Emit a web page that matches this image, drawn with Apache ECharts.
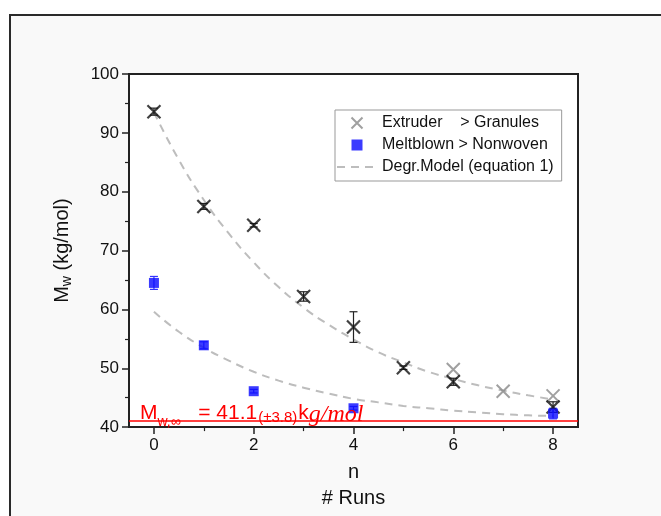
<!DOCTYPE html>
<html>
<head>
<meta charset="utf-8">
<script src="https://cdn.jsdelivr.net/npm/echarts@6/dist/echarts.min.js"></script>
<style>
html,body{margin:0;padding:0;background:#fff;}
#chart{width:661px;height:516px;}
</style>
</head>
<body>
<div id="chart"></div>
<script>
// ---- data ----
const blackRuns   = [0, 1, 2, 3, 4, 5, 6, 8];
const blackMw     = [93.6, 77.5, 74.3, 62.2, 57.0, 50.1, 47.7, 43.4];
const blackErrLo  = [0.6, 0.5, 0.3, 0.8, 2.6, 0.3, 0.6, 0.9];
const blackErrHi  = [0.6, 0.5, 0.3, 0.8, 2.6, 0.3, 0.6, 0.9];

const greyRuns    = [6, 7, 8];
const greyMw      = [49.8, 46.1, 45.3];

const blueRuns    = [0, 1, 2, 4, 8];
const blueMw      = [64.5, 53.9, 46.1, 43.2, 42.3];
const blueErr     = [1.1, 0.6, 0.3, 0.3, 0.9];

const curveN      = [0, 0.5, 1, 1.5, 2, 2.5, 3, 3.5, 4, 4.5, 5, 5.5, 6, 6.5, 7, 7.5, 8];
const upperCurve  = [93.5, 85.4, 78.6, 72.9, 68.0, 63.8, 60.3, 57.4, 54.9, 52.7, 51.0, 49.4, 48.2, 47.1, 46.2, 45.4, 44.7];
const lowerCurve  = [59.6, 56.2, 53.5, 51.3, 49.4, 47.9, 46.7, 45.7, 44.8, 44.2, 43.6, 43.2, 42.8, 42.5, 42.2, 42.0, 41.9];

const mwInf       = 41.1;
const xTickLabels = [0, 2, 4, 6, 8];
const xMinorTicks = [1, 3, 5, 7];

const nameExtruder = 'Extruder    > Granules';
const nameMelt     = 'Meltblown > Nonwoven';
const nameModel    = 'Degr.Model (equation 1)';
// --------------------------------------

const zip = (a, b) => a.map((v, i) => [v, b[i]]);
const X_PATH = 'path://M0,0L10,10M10,0L0,10';
const SQ_PATH = 'path://M0,0L10,0L10,10L0,10Z';

function errBarSeries(runs, vals, lo, hi, color) {
  return {
    type: 'custom',
    silent: true,
    z: 3,
    data: runs.map((n, i) => [n, vals[i] - lo[i], vals[i] + hi[i]]),
    renderItem(params, api) {
      const x = api.value(0);
      const a = api.coord([x, api.value(1)]);
      const b = api.coord([x, api.value(2)]);
      const w = 4;
      const st = { stroke: color, lineWidth: 1.2 };
      return {
        type: 'group',
        children: [
          { type: 'line', shape: { x1: a[0], y1: a[1], x2: b[0], y2: b[1] }, style: st },
          { type: 'line', shape: { x1: a[0] - w, y1: a[1], x2: a[0] + w, y2: a[1] }, style: st },
          { type: 'line', shape: { x1: b[0] - w, y1: b[1], x2: b[0] + w, y2: b[1] }, style: st }
        ]
      };
    }
  };
}

const chart = echarts.init(document.getElementById('chart'), null, { renderer: 'canvas' });

const axisFont = { fontFamily: 'Liberation Sans, Arial, sans-serif', color: '#111' };
const red = '#ff0000';

chart.setOption({
  animation: false,
  backgroundColor: '#fff',
  graphic: [
    {
      type: 'rect', left: 9, top: 14, z: -10, silent: true,
      shape: { x: 0, y: 0, width: 720, height: 600 },
      style: { fill: '#f9f9f9', stroke: '#2a2a2a', lineWidth: 2 }
    },
    {
      type: 'text', left: 140, top: 403, z: 100, silent: true,
      style: {
        text: '{m|M}{s|w,∞}{m|   = 41.1}{p|(±3.8)}{m|k}{i|g/mol}',
        fill: red,
        rich: {
          m: { fontSize: 21, fontFamily: 'Liberation Sans, Arial, sans-serif', fill: red, verticalAlign: 'top', lineHeight: 26 },
          s: { fontSize: 14, fontFamily: 'Liberation Sans, Arial, sans-serif', fill: red, verticalAlign: 'top', lineHeight: 14, padding: [12, 0, 0, 0] },
          p: { fontSize: 15, fontFamily: 'Liberation Sans, Arial, sans-serif', fill: red, verticalAlign: 'top', lineHeight: 15, padding: [7, 1, 0, 1] },
          i: { fontSize: 24, fontFamily: 'Liberation Serif, serif', fontStyle: 'italic', fill: red, verticalAlign: 'top', lineHeight: 26 }
        }
      }
    }
  ],
  grid: {
    left: 129, right: 83, top: 74, bottom: 81,
    show: true, backgroundColor: '#ffffff', borderColor: '#222', borderWidth: 2
  },
  legend: {
    orient: 'vertical',
    left: 335, top: 110,
    backgroundColor: '#fff',
    borderColor: '#999', borderWidth: 1, borderRadius: 0,
    padding: [5, 8, 6, 1],
    itemGap: 6,
    itemWidth: 40, itemHeight: 11,
    textStyle: { fontSize: 16, fontFamily: 'Liberation Sans, Arial, sans-serif', color: '#111' },
    data: [
      { name: nameExtruder },
      { name: nameMelt, icon: SQ_PATH, itemStyle: { color: '#0a0aff' } },
      { name: nameModel, itemStyle: { opacity: 0 } }
    ]
  },
  xAxis: [
    {
      type: 'value', min: -0.5, max: 8.5, position: 'bottom',
      name: 'n\n# Runs', nameLocation: 'middle', nameGap: 27,
      nameTextStyle: Object.assign({ fontSize: 20, lineHeight: 26, verticalAlign: 'top' }, axisFont),
      axisLine: { show: true, onZero: false, lineStyle: { color: '#222', width: 2 } },
      axisTick: { show: true, inside: false, length: 7, customValues: xTickLabels, lineStyle: { color: '#222', width: 1.5 } },
      axisLabel: { show: true, customValues: xTickLabels, fontSize: 17, margin: 10, ...axisFont },
      splitLine: { show: false }
    },
    {
      type: 'value', min: -0.5, max: 8.5, position: 'bottom', offset: 0,
      axisLine: { show: false, onZero: false },
      axisTick: { show: true, inside: false, length: 4, customValues: xMinorTicks, lineStyle: { color: '#222', width: 1.2 } },
      axisLabel: { show: false },
      splitLine: { show: false }
    }
  ],
  yAxis: {
    type: 'value', min: 40, max: 100, interval: 10,
    name: '{a|M}{b|w}{a| (kg/mol)}', nameLocation: 'middle', nameGap: 55, nameRotate: 90,
    nameTextStyle: {
      rich: {
        a: { fontSize: 20, ...axisFont },
        b: { fontSize: 14, ...axisFont, padding: [10, 0, 0, 0] }
      }
    },
    axisLine: { show: true, onZero: false, lineStyle: { color: '#222', width: 2 } },
    axisTick: { show: true, inside: false, length: 7, lineStyle: { color: '#222', width: 1.5 } },
    minorTick: { show: true, splitNumber: 2, length: 4, lineStyle: { color: '#222', width: 1.2 } },
    axisLabel: { fontSize: 17, margin: 10, ...axisFont },
    splitLine: { show: false }
  },
  series: [
    {
      name: nameModel, type: 'line', smooth: true, symbol: 'none', z: 1,
      data: zip(curveN, upperCurve),
      lineStyle: { color: '#bdbdbd', width: 2, type: [8, 6] },
      itemStyle: { color: '#bdbdbd' },
      markLine: {
        silent: true, symbol: 'none', label: { show: false },
        lineStyle: { color: red, width: 1.5, type: 'solid' },
        data: [{ yAxis: mwInf }]
      }
    },
    {
      name: nameModel, type: 'line', smooth: true, symbol: 'none', z: 1,
      data: zip(curveN, lowerCurve),
      lineStyle: { color: '#bdbdbd', width: 2, type: [8, 6] },
      itemStyle: { color: '#bdbdbd' }
    },
    errBarSeries(blackRuns, blackMw, blackErrLo, blackErrHi, '#222'),
    errBarSeries(blueRuns, blueMw, blueErr, blueErr, '#3333ff'),
    {
      name: nameExtruder, type: 'scatter', z: 4,
      symbol: X_PATH, symbolSize: 13,
      data: zip(greyRuns, greyMw),
      itemStyle: { color: '#888', borderColor: '#888', borderWidth: 2 }
    },
    {
      name: 'Extruder (black)', type: 'scatter', z: 5,
      symbol: X_PATH, symbolSize: 13,
      data: zip(blackRuns, blackMw),
      itemStyle: { color: '#111', borderColor: '#111', borderWidth: 2.2 }
    },
    {
      name: nameMelt, type: 'scatter', z: 5,
      symbol: 'rect', symbolSize: 10,
      data: zip(blueRuns, blueMw),
      itemStyle: { color: '#0a0aff' }
    }
  ]
});
</script>
</body>
</html>
